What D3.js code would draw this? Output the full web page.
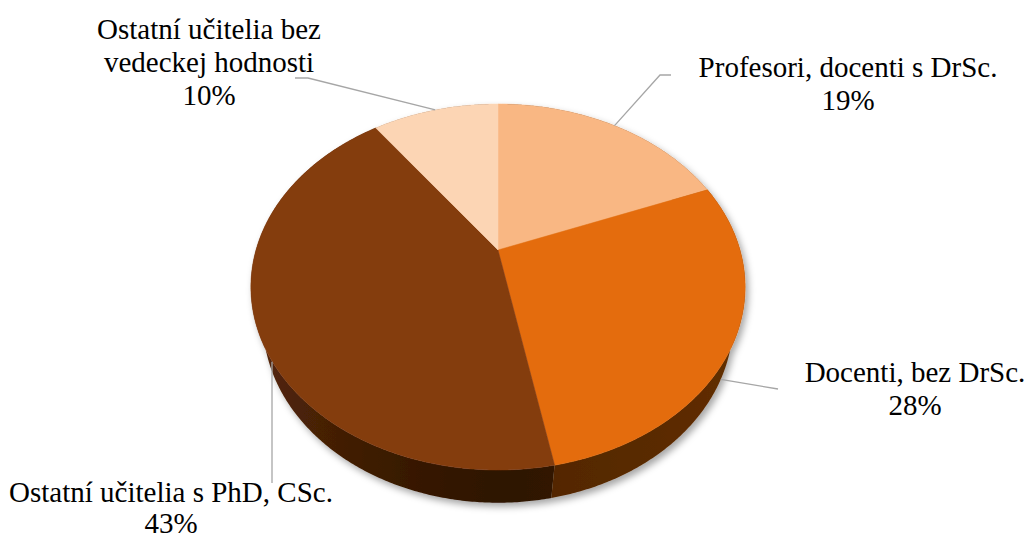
<!DOCTYPE html>
<html>
<head>
<meta charset="utf-8">
<script src="https://cdn.jsdelivr.net/npm/d3@7"></script>
<style>
  html, body { margin: 0; padding: 0; background: #ffffff; }
  svg { display: block; }
  text { font-family: "Liberation Serif", "Times New Roman", serif; font-size: 29px; fill: #000; }
</style>
</head>
<body>
<svg id="chart" width="1030" height="541"></svg>
<script>
// ---- data ----
const categories = ["Profesori, docenti s DrSc.", "Docenti, bez DrSc.", "Ostatní učitelia s PhD, CSc.", "Ostatní učitelia bez vedeckej hodnosti"];
const values = [19, 28, 43, 10];
const percentLabels = ["19%", "28%", "43%", "10%"];
const labelLines = [
  ["Profesori, docenti s DrSc.", "19%"],
  ["Docenti, bez DrSc.", "28%"],
  ["Ostatní učitelia s PhD, CSc.", "43%"],
  ["Ostatní učitelia bez", "vedeckej hodnosti", "10%"]
];
const colors = ["#F9B783", "#E46C0A", "#843C0C", "#FCD5B4"];

// ---- 3D projection of the tilted pie ----
const cx = 498, cy = 250;
const R = 242, H = 56, D = 824;
const phi = Math.atan2(0.725, 0.688);
const sinP = Math.sin(phi), cosP = Math.cos(phi);

function proj(theta, r, y) {
  const x = r * Math.sin(theta);
  const z = -r * Math.cos(theta);
  const ys = z * sinP - y * cosP;
  const zc = z * cosP + y * sinP;
  const s = D / (D - zc);
  return [cx + x * s, cy + ys * s, zc];
}

const svg = d3.select("#chart");
const defs = svg.append("defs");
const f = defs.append("filter").attr("id", "shadow")
  .attr("x", "-20%").attr("y", "-20%").attr("width", "140%").attr("height", "140%");
f.append("feDropShadow").attr("dx", 3).attr("dy", 4).attr("stdDeviation", 3.5)
  .attr("flood-color", "#000").attr("flood-opacity", 0.35);

const pie = d3.pie().sort(null).value(d => d).startAngle(0).endAngle(2 * Math.PI);
const arcs = pie(values);

function shadeFactor(t) {
  const s = Math.sin(t);
  return 0.35 + 0.33 * Math.pow(Math.max(0, -s), 1.3) + 0.08 * Math.max(0, s);
}
function shade(col, k) {
  const c = d3.rgb(col);
  return d3.rgb(c.r * k, c.g * k, c.b * k).formatHex();
}

// horizontal gradients for the visible (front) side, one per slice
const xL = proj(1.5 * Math.PI, R, 0)[0] - 10, xR = proj(0.5 * Math.PI, R, 0)[0] + 10;
colors.forEach((col, i) => {
  const g = defs.append("linearGradient").attr("id", "side" + i)
    .attr("gradientUnits", "userSpaceOnUse")
    .attr("x1", xL).attr("y1", 0).attr("x2", xR).attr("y2", 0);
  const stops = [];
  for (let deg = 270; deg >= 90; deg -= 5) {
    const t = deg * Math.PI / 180;
    const x = proj(t, R, -H / 2)[0];
    stops.push({ o: Math.min(1, Math.max(0, (x - xL) / (xR - xL))), c: shade(col, shadeFactor(t)) });
  }
  g.selectAll("stop").data(stops).join("stop")
    .attr("offset", s => s.o.toFixed(4))
    .attr("stop-color", s => s.c);
});

const pieG = svg.append("g").attr("filter", "url(#shadow)");

function arcPoints(a0, a1, y) {
  const n = Math.max(2, Math.ceil((a1 - a0) / (Math.PI / 360)));
  const pts = [];
  for (let k = 0; k <= n; k++) {
    const t = a0 + (a1 - a0) * k / n;
    const p = proj(t, R, y);
    pts.push([p[0], p[1]]);
  }
  return pts;
}
const toPath = pts => "M" + pts.map(p => p[0].toFixed(2) + "," + p[1].toFixed(2)).join("L") + "Z";

// side walls, far slices first
const sideOrder = arcs.map((a, i) => ({ a, i, z: proj((a.startAngle + a.endAngle) / 2, R, 0)[2] }))
  .sort((p, q) => p.z - q.z);
pieG.append("g").selectAll("path").data(sideOrder).join("path")
  .attr("d", d => {
    const top = arcPoints(d.a.startAngle, d.a.endAngle, 0);
    const bot = arcPoints(d.a.startAngle, d.a.endAngle, -H).reverse();
    return toPath(top.concat(bot));
  })
  .attr("fill", d => "url(#side" + d.i + ")")
  .attr("stroke", "none");

// top surfaces
pieG.append("g").selectAll("path").data(arcs).join("path")
  .attr("d", a => toPath([[cx, cy]].concat(arcPoints(a.startAngle, a.endAngle, 0))))
  .attr("fill", (a, i) => colors[i])
  .attr("stroke", (a, i) => colors[i])
  .attr("stroke-width", 0.5);

// ---- leader lines ----
function anchor(a) {
  const mid = (a.startAngle + a.endAngle) / 2;
  const back = Math.cos(mid) > 0;
  return proj(mid, R, back ? 0 : -H);
}
const lineEnds = [
  [[660, 75], [671, 75]],
  [[778, 389]],
  [[272, 483]],
  [[308, 78], [295, 78]]
];
const leaderG = svg.append("g");
arcs.forEach((a, i) => {
  const p0 = anchor(a);
  let pts = [[p0[0], p0[1]]];
  if (i === 2) pts = [[272, p0[1]]];
  lineEnds[i].forEach(p => pts.push(p));
  leaderG.append("path")
    .attr("d", d3.line()(pts))
    .attr("fill", "none")
    .attr("stroke", "#A6A6A6")
    .attr("stroke-width", 1.3);
});

// ---- labels ----
const labelPos = [
  { x: 848, y: 77, lh: 33 },
  { x: 915, y: 382, lh: 33 },
  { x: 171, y: 502, lh: 31 },
  { x: 209, y: 39, lh: 33 }
];
const labelG = svg.append("g");
labelLines.forEach((lines, i) => {
  const t = labelG.append("text")
    .attr("text-anchor", "middle")
    .attr("x", labelPos[i].x)
    .attr("y", labelPos[i].y);
  lines.forEach((ln, j) => {
    t.append("tspan").attr("x", labelPos[i].x).attr("y", labelPos[i].y + j * labelPos[i].lh).text(ln);
  });
});
</script>
</body>
</html>
